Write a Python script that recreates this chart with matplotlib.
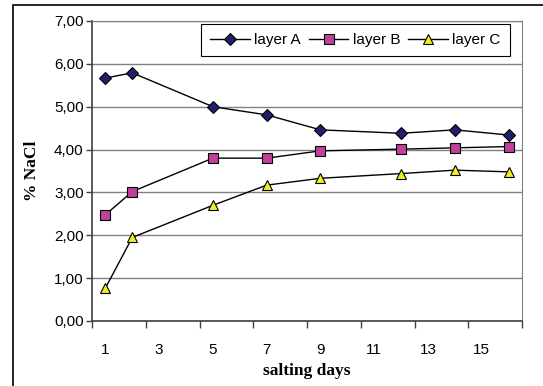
"""% NaCl vs salting days for three layers."""

import matplotlib
matplotlib.use("Agg")
import matplotlib.pyplot as plt
from matplotlib.patches import Rectangle

days = [1, 2, 5, 7, 9, 12, 14, 16]
layer_a = [5.67, 5.79, 5.00, 4.81, 4.46, 4.38, 4.46, 4.34]
layer_b = [2.48, 3.02, 3.80, 3.80, 3.97, 4.01, 4.04, 4.07]
layer_c = [0.77, 1.95, 2.70, 3.17, 3.33, 3.44, 3.52, 3.48]
x_labels = [1, 3, 5, 7, 9, 11, 13, 15]
y_ticks = [0, 1, 2, 3, 4, 5, 6, 7]

plt.rcParams["font.family"] = ["Liberation Sans", "DejaVu Sans"]

fig = plt.figure(figsize=(5.43, 3.86), dpi=100)
ax = fig.add_axes([92 / 543, 1 - 321 / 386, 430 / 543, 300 / 386])

# outer chart frame (cut off at right and bottom in the original)
fig.patches.append(Rectangle((13 / 543, -0.1), 1.2, 1 - 5 / 386 + 0.1,
                             transform=fig.transFigure, fill=False,
                             edgecolor="black", linewidth=1.2))

style = dict(color="black", linewidth=1.0, markeredgecolor="black",
             markeredgewidth=0.8, clip_on=False, zorder=3)
ax.plot(days, layer_a, marker="D", markersize=6, markerfacecolor="#1f1f6e",
        label="layer A", **style)
ax.plot(days, layer_b, marker="s", markersize=6.5, markerfacecolor="#c0409a",
        label="layer B", **style)
ax.plot(days, layer_c, marker="^", markersize=7.5, markerfacecolor="#f0f020",
        label="layer C", **style)

ax.set_xlim(0.5, 16.5)
ax.set_ylim(0, 7)

# category-style axis: tick marks between labels
ax.set_xticks([x - 0.5 for x in x_labels] + [16.5])
ax.set_xticklabels([])
ax.set_xticks(x_labels, minor=True)
ax.set_xticklabels([str(x) for x in x_labels], minor=True, fontsize=11)
ax.tick_params(axis="x", which="major", direction="out", length=5, width=1, color="#404040")
ax.tick_params(axis="x", which="minor", length=0, pad=16)

ax.set_yticks(y_ticks)
ax.set_yticklabels([f"{v},00" for v in y_ticks], fontsize=11)
ax.tick_params(axis="y", direction="out", length=4, width=1, color="#404040", pad=2)

ax.grid(True, axis="y", color="#808080", linewidth=1.0)
ax.set_axisbelow(True)

for side in ("top", "right"):
    ax.spines[side].set_color("#808080")
for side in ("left", "bottom"):
    ax.spines[side].set_color("#404040")
    ax.spines[side].set_linewidth(1.2)

ax.set_xlabel("salting days", fontsize=12.5, fontweight="bold",
              family="Liberation Serif", labelpad=4)
ax.set_ylabel("% NaCl", fontsize=12.5, fontweight="bold",
              family="Liberation Serif", labelpad=10)

leg = ax.legend(loc="upper right", bbox_to_anchor=(0.972, 0.99), ncol=3,
                fontsize=11, frameon=True, fancybox=False, framealpha=1,
                edgecolor="black", handlelength=2.6, handletextpad=0.3,
                columnspacing=0.5, borderpad=0.6, borderaxespad=0)
leg.get_frame().set_linewidth(0.8)

fig.savefig("out.png", dpi=100)
